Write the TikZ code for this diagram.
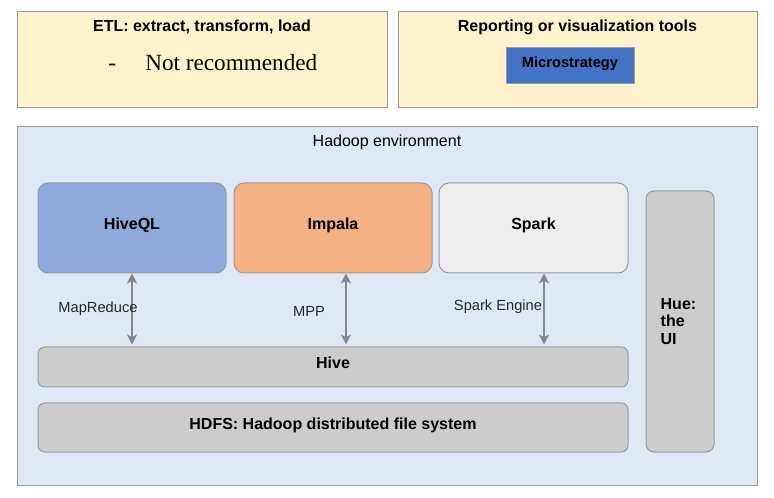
\documentclass[tikz,border=0pt]{standalone}
\usepackage{fontspec}
\setmainfont{Liberation Sans}
\newfontfamily\timesfont{Liberation Serif}
\usepackage{xcolor}
\usepackage{tikz}
\usetikzlibrary{arrows.meta, positioning, calc}

\definecolor{etlyellow}{HTML}{FFF2CC}
\definecolor{envblue}{HTML}{DFE9F5}
\definecolor{hiveqlblue}{HTML}{8EA9DB}
\definecolor{impalaorange}{HTML}{F4B183}
\definecolor{sparkgray}{HTML}{EDEDED}
\definecolor{layergray}{HTML}{CCCCCC}
\definecolor{microblue}{HTML}{4472C4}
\definecolor{boxgray}{HTML}{9A9A9A}
\definecolor{arrowgray}{HTML}{878787}

\begin{document}
\begin{tikzpicture}[
    x=0.75pt, y=-0.75pt,
    every node/.style={font=\fontsize{12}{14}\selectfont, align=center, inner sep=0pt},
    panel/.style={rectangle, draw=boxgray, fill=etlyellow, line width=0.75pt,
                  minimum height=72pt},
    engine/.style={rectangle, draw=boxgray, line width=0.75pt, rounded corners=7.5pt,
                   minimum height=67.5pt, text depth=6pt,
                   font=\fontsize{12}{14}\selectfont\bfseries},
    layer/.style={rectangle, draw=boxgray, fill=layergray, line width=0.75pt,
                  rounded corners=5pt, minimum width=442.5pt,
                  font=\fontsize{12}{14}\selectfont\bfseries},
    link/.style={{Stealth[length=7.5pt,width=7.5pt,inset=2pt]}-{Stealth[length=7.5pt,width=7.5pt,inset=2pt]},
                 line width=2.1pt, draw=arrowgray, shorten >=1.5pt},
    linklabel/.style={font=\fontsize{11}{13}\selectfont, text=black!85}
]
\useasboundingbox (0,0) rectangle (774,498);

% --- top panels ---
\node[panel, minimum width=277.5pt] (etl) at (202,60) {};
\node[font=\fontsize{12}{14}\selectfont\bfseries] (etltitle) at (202,27) {ETL: extract, transform, load};
\node[anchor=west, font=\fontsize{17.4}{20}\timesfont] (etlnote) at (108,63)
  {-\hspace{22pt}Not recommended};

\node[panel, minimum width=269.25pt] (report) at (577.5,60) {};
\node[font=\fontsize{12}{14}\selectfont\bfseries] (reporttitle) at (577.5,27) {Reporting or visualization tools};
\node[rectangle, draw=boxgray, fill=microblue, line width=0.75pt,
      minimum width=96pt, minimum height=27pt, text depth=6pt,
      font=\fontsize{11}{13}\selectfont\bfseries] (micro) at (570,66) {Microstrategy};

% --- Hadoop environment ---
\node[rectangle, draw=boxgray, fill=envblue, line width=0.75pt,
      minimum width=555pt, minimum height=268.5pt] (hadoop) at (387,306) {};
\node (hadooptitle) at (387,142) {Hadoop environment};

\node[engine, fill=hiveqlblue,   minimum width=141pt]    (hiveql) at (132,228)   {HiveQL};
\node[engine, fill=impalaorange, minimum width=148.5pt]  (impala) at (333,228)   {Impala};
\node[engine, fill=sparkgray,    minimum width=141.75pt] (spark)  at (533.5,228) {Spark};

\node[layer, minimum height=30pt, text depth=7pt]    (hive) at (333,367)   {Hive};
\node[layer, minimum height=36.75pt, text depth=6pt] (hdfs) at (333,427.5) {HDFS: Hadoop distributed file system};

\node[rectangle, draw=boxgray, fill=layergray, line width=0.75pt, rounded corners=6pt,
      minimum height=195.75pt, inner xsep=11pt, text width=29pt, align=left,
      font=\fontsize{12}{13}\selectfont\bfseries] (hue) at (680,321.5) {Hue:\\the\\UI};

% engine <-> Hive
\draw[link] (hiveql.south) -- (hiveql.south |- hive.north);
\draw[link] ($(impala.south)+(13,0)$) -- ($(impala.south |- hive.north)+(13,0)$);
\draw[link] ($(spark.south)+(10.5,0)$) -- ($(spark.south |- hive.north)+(10.5,0)$);

\node[linklabel] (mapreduce) at (98,309)  {MapReduce};
\node[linklabel] (mpp)       at (309,311) {MPP};
\node[linklabel] (sparkeng)  at (498,307) {Spark Engine};

\end{tikzpicture}
\end{document}
